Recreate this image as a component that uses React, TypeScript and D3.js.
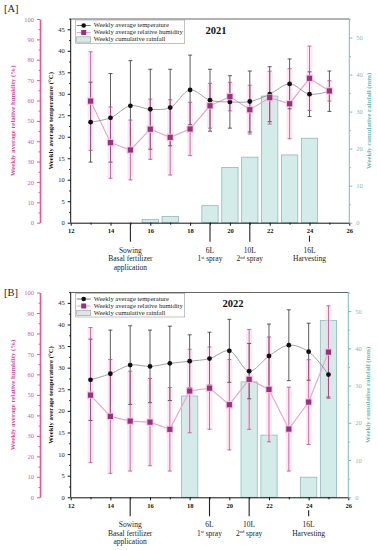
import React, { useRef, useEffect } from 'react';
import * as d3 from 'd3';

const FONT = '"Liberation Serif", "DejaVu Serif", serif';

// week numbers shared by both seasons
const weeks = [13, 14, 15, 16, 17, 18, 19, 20, 21, 22, 23, 24, 25];

// 2021
const temp2021 = [23.4, 24.4, 27.2, 26.4, 26.8, 30.9, 28.5, 28.1, 28.2, 29.9, 32.3, 29.9, 30.6];
const tempErr2021 = [9.3, 10.3, 10.5, 9.3, 8.9, 8.1, 7.2, 6.1, 7.1, 6.4, 5.8, 5.2, 4.7];
const hum2021 = [59.7, 39.3, 35.7, 45.9, 41.9, 46.0, 57.4, 61.9, 55.5, 61.4, 58.4, 70.9, 64.7];
const humErr2021 = [24.2, 17.5, 14.7, 14.8, 18.5, 13.1, 11, 7, 12, 13, 17.2, 15.8, 5];
const rain2021 = [0, 0, 0, 0.9, 1.7, 0, 4.6, 14.9, 17.7, 34.2, 18.3, 22.8, 0];

// 2022
const temp2022 = [27.2, 28.6, 30.6, 30.3, 31.0, 31.5, 32.1, 33.9, 29.2, 32.7, 35.2, 33.7, 28.4];
const tempErr2022 = [9.4, 10.1, 9.1, 8.4, 8.6, 6.1, 6.1, 7.3, 6.4, 7.4, 8.2, 6.6, 5.2];
const hum2022 = [49.9, 39.5, 37.2, 36.7, 33.2, 51.9, 53.3, 45.2, 57.6, 52.7, 33.3, 46.5, 70.9];
const humErr2022 = [33, 27.8, 24.4, 21.3, 20.4, 20.4, 20.1, 22.1, 24.4, 25.6, 20.5, 20.7, 22.6];
const rain2022 = [0, 0, 0, 0, 0, 27.2, 0, 0, 31.0, 16.7, 0, 5.4, 47.5];

// axis ticks
const xTicks = [12, 14, 16, 18, 20, 22, 24, 26];
const tempTicks = [0, 5, 10, 15, 20, 25, 30, 35, 40, 45];
const humTicks = [0, 10, 20, 30, 40, 50, 60, 70, 80, 90, 100];
const rainTicks = [0, 10, 20, 30, 40, 50];

// crop stage notes below the week axis
const noteWeeks = [15, 19, 21, 24];
const noteLines = [
    ['Sowing', 'Basal fertilizer', 'application'],
    ['6L', '1|st| spray'],
    ['10L', '2|nd| spray'],
    ['16L', 'Harvesting'],
];

const legendLabels = ['Weekly average temperature', 'Weekly average relative humidity', 'Weekly cumulative rainfall'];

const PINK = '#e8559f';
const TEAL = '#62bdb8';

function drawPanel(svg, p) {
    const left = 70.7;
    const x = d3.scaleLinear().domain([12, 26]).range([left, p.right]);
    const yT = d3.scaleLinear().domain([0, 47.4]).range([p.bottom, p.top]);
    const yH = d3.scaleLinear().domain([0, 100]).range([p.bottom, p.top]);
    const yR = d3.scaleLinear().domain([0, 55]).range([p.bottom, p.top]);

    const g = svg.append('g').attr('font-family', FONT);
    const rows = weeks.map((w, i) => ({
        w, t: p.temp[i], te: p.tempErr[i], h: p.hum[i], he: p.humErr[i], r: p.rain[i],
    }));

    // rainfall bars
    const bw = (x(13) - x(12)) * 0.82;
    g.append('g').selectAll('rect')
        .data(rows.filter(d => d.r > 0))
        .join('rect')
        .attr('x', d => x(d.w) - bw / 2)
        .attr('y', d => yR(d.r))
        .attr('width', bw)
        .attr('height', d => yR(0) - yR(d.r))
        .attr('fill', '#d3ecea')
        .attr('stroke', '#93b8bb')
        .attr('stroke-width', 0.8);

    // pink glow behind humidity error bars
    g.append('g').selectAll('rect')
        .data(rows)
        .join('rect')
        .attr('x', d => x(d.w) - 3)
        .attr('y', d => yH(d.h + d.he))
        .attr('width', 6)
        .attr('height', d => yH(d.h - d.he) - yH(d.h + d.he))
        .attr('fill', '#fbd3ea')
        .attr('opacity', 0.5);

    // humidity line
    g.append('path')
        .datum(rows)
        .attr('fill', 'none')
        .attr('stroke', '#eaa6cc')
        .attr('stroke-width', 1.2)
        .attr('d', d3.line().x(d => x(d.w)).y(d => yH(d.h)));

    // temperature line
    g.append('path')
        .datum(rows)
        .attr('fill', 'none')
        .attr('stroke', '#8a8a8a')
        .attr('stroke-width', 0.8)
        .attr('d', d3.line().curve(d3.curveCatmullRom).x(d => x(d.w)).y(d => yT(d.t)));

    // error bars
    const errBars = (lo, hi, color) => {
        const eg = g.append('g').selectAll('g').data(rows).join('g')
            .attr('stroke', color).attr('stroke-width', 0.8);
        eg.append('line')
            .attr('x1', d => x(d.w)).attr('x2', d => x(d.w))
            .attr('y1', lo).attr('y2', hi);
        eg.append('line')
            .attr('x1', d => x(d.w) - 2).attr('x2', d => x(d.w) + 2)
            .attr('y1', lo).attr('y2', lo);
        eg.append('line')
            .attr('x1', d => x(d.w) - 2).attr('x2', d => x(d.w) + 2)
            .attr('y1', hi).attr('y2', hi);
    };
    errBars(d => yT(d.t - d.te), d => yT(d.t + d.te), '#333');
    errBars(d => yH(d.h - d.he), d => yH(d.h + d.he), '#b0508f');

    // markers
    g.append('g').selectAll('circle').data(rows).join('circle')
        .attr('cx', d => x(d.w)).attr('cy', d => yT(d.t)).attr('r', 2.4)
        .attr('fill', '#111');
    g.append('g').selectAll('rect').data(rows).join('rect')
        .attr('x', d => x(d.w) - 3.8).attr('y', d => yH(d.h) - 3.8)
        .attr('width', 7.6).attr('height', 7.6)
        .attr('fill', '#f7bcdc').attr('opacity', 0.7);
    g.append('g').selectAll('rect').data(rows).join('rect')
        .attr('x', d => x(d.w) - 2.6).attr('y', d => yH(d.h) - 2.6)
        .attr('width', 5.2).attr('height', 5.2)
        .attr('fill', '#983180');

    // frame top
    g.append('line')
        .attr('x1', left).attr('x2', p.right)
        .attr('y1', p.top).attr('y2', p.top)
        .attr('stroke', '#666').attr('stroke-width', 1.2);

    const styleAxis = (ax, color, textColor, size, weight) => {
        ax.attr('font-family', FONT).attr('font-size', size);
        ax.select('.domain').attr('stroke', color).attr('stroke-width', 1);
        ax.selectAll('.tick line').attr('stroke', color);
        ax.selectAll('.tick text').attr('fill', textColor).attr('font-weight', weight);
    };

    // x axis with minor ticks
    const xa = g.append('g').attr('transform', `translate(0,${p.bottom})`)
        .call(d3.axisBottom(x).tickValues(xTicks).tickSize(3).tickPadding(3).tickSizeOuter(0));
    styleAxis(xa, '#111', '#111', 6.5, 'bold');
    const xm = g.append('g').attr('transform', `translate(0,${p.bottom})`)
        .call(d3.axisBottom(x).tickValues(weeks.filter(w => w % 2 === 1)).tickSize(2).tickFormat(() => '').tickSizeOuter(0));
    xm.select('.domain').remove();
    xm.selectAll('.tick line').attr('stroke', '#111');

    // temperature axis
    const ta = g.append('g').attr('transform', `translate(${left},0)`)
        .call(d3.axisLeft(yT).tickValues(tempTicks).tickSize(3).tickPadding(3).tickSizeOuter(0));
    styleAxis(ta, '#111', '#222', 6.5, 'normal');
    ta.select('.domain').attr('d', `M0,${p.bottom}V${p.top}`);
    const tm = g.append('g').attr('transform', `translate(${left},0)`)
        .call(d3.axisLeft(yT).tickValues(tempTicks.map(v => v + 2.5)).tickSize(1.5).tickFormat(() => '').tickSizeOuter(0));
    tm.select('.domain').remove();
    tm.selectAll('.tick line').attr('stroke', '#111');

    // humidity axis
    const ha = g.append('g').attr('transform', 'translate(40,0)')
        .call(d3.axisLeft(yH).tickValues(humTicks).tickSize(3).tickPadding(3).tickSizeOuter(0));
    styleAxis(ha, PINK, '#c8609e', 6.5, 'normal');
    ha.select('.domain').attr('stroke-width', 1.6);
    const hm = g.append('g').attr('transform', 'translate(40,0)')
        .call(d3.axisLeft(yH).tickValues(humTicks.slice(0, -1).map(v => v + 5)).tickSize(1.5).tickFormat(() => '').tickSizeOuter(0));
    hm.select('.domain').remove();
    hm.selectAll('.tick line').attr('stroke', PINK);

    // rainfall axis
    const ra = g.append('g').attr('transform', `translate(${p.right},0)`)
        .call(d3.axisRight(yR).tickValues(rainTicks).tickSize(3).tickPadding(4).tickSizeOuter(0));
    styleAxis(ra, '#7fb9b8', '#8fb6b5', 6.5, 'normal');
    ra.select('.domain').attr('d', `M0,${p.bottom}V${p.top}`);
    const rm = g.append('g').attr('transform', `translate(${p.right},0)`)
        .call(d3.axisRight(yR).tickValues(rainTicks.map(v => v + 5)).tickSize(1.5).tickFormat(() => '').tickSizeOuter(0));
    rm.select('.domain').remove();
    rm.selectAll('.tick line').attr('stroke', '#7fb9b8');

    // axis titles
    const midY = (p.top + p.bottom) / 2;
    g.append('text')
        .attr('transform', `translate(15,${midY}) rotate(-90)`)
        .attr('text-anchor', 'middle').attr('font-size', 6.8).attr('font-weight', 'bold')
        .attr('fill', '#e0459b')
        .text('Weekly average relative humidity (%)');
    g.append('text')
        .attr('transform', `translate(53,${midY}) rotate(-90)`)
        .attr('text-anchor', 'middle').attr('font-size', 6.8).attr('font-weight', 'bold')
        .attr('fill', '#111')
        .text('Weekly average temperature (\u00b0C)');
    g.append('text')
        .attr('transform', `translate(${p.right + 22},${midY}) rotate(-90)`)
        .attr('text-anchor', 'middle').attr('font-size', 6.8).attr('font-weight', 'bold')
        .attr('fill', TEAL)
        .text('Weekly cumulative rainfall (mm)');

    // legend
    const lg = g.append('g').attr('transform', `translate(${left + 5},${p.top + 1})`);
    lg.append('rect').attr('width', 109).attr('height', 23.5)
        .attr('fill', 'white').attr('stroke', '#999').attr('stroke-width', 0.6);
    const rowY = [5.5, 12.5, 19.5];
    lg.append('line').attr('x1', 1).attr('x2', 15).attr('y1', rowY[0]).attr('y2', rowY[0])
        .attr('stroke', '#555').attr('stroke-width', 0.8);
    lg.append('circle').attr('cx', 8).attr('cy', rowY[0]).attr('r', 2.3).attr('fill', '#111');
    lg.append('line').attr('x1', 1).attr('x2', 15).attr('y1', rowY[1]).attr('y2', rowY[1])
        .attr('stroke', '#eaa6cc').attr('stroke-width', 1);
    lg.append('rect').attr('x', 5.5).attr('y', rowY[1] - 2.5).attr('width', 5).attr('height', 5).attr('fill', '#983180');
    lg.append('rect').attr('x', 1).attr('y', rowY[2] - 2.7).attr('width', 14).attr('height', 5.4)
        .attr('fill', p.swatch).attr('stroke', '#999').attr('stroke-width', 0.6);
    lg.selectAll('text.lbl').data(legendLabels).join('text')
        .attr('class', 'lbl')
        .attr('x', 18).attr('y', (d, i) => rowY[i])
        .attr('dominant-baseline', 'middle')
        .attr('font-size', 6.6).attr('fill', '#222')
        .text(d => d);

    // year label
    g.append('text')
        .attr('x', p.yearX).attr('y', p.top + 14.5)
        .attr('text-anchor', 'middle').attr('font-size', 10.5).attr('font-weight', 'bold')
        .attr('fill', '#111')
        .text(p.year);

    // panel tag
    g.append('text')
        .attr('x', 4).attr('y', p.tagY)
        .attr('font-size', 10.5).attr('fill', '#222')
        .text(p.tag);

    // crop stage notes
    noteWeeks.forEach((w, i) => {
        const startY = w === 24 ? p.bottom + 13 : p.bottom;
        g.append('line')
            .attr('x1', x(w)).attr('x2', x(w))
            .attr('y1', startY).attr('y2', p.bottom + 19)
            .attr('stroke', '#222').attr('stroke-width', 1.1);
        noteLines[i].forEach((line, j) => {
            const t = g.append('text')
                .attr('x', x(w)).attr('y', p.bottom + 30 + j * 8.4)
                .attr('text-anchor', 'middle').attr('font-size', 7.5).attr('fill', '#222');
            const parts = line.split('|');
            if (parts.length === 3) {
                t.append('tspan').text(parts[0]);
                t.append('tspan').attr('font-size', 4.5).attr('dy', -2.5).text(parts[1]);
                t.append('tspan').attr('dy', 2.5).text(parts[2]);
            } else {
                t.text(line);
            }
        });
    });
}

const panels = [
    {
        tag: '[A]', tagY: 12, year: '2021', yearX: 216, top: 19, bottom: 222.7, right: 349.3,
        temp: temp2021, tempErr: tempErr2021, hum: hum2021, humErr: humErr2021, rain: rain2021,
        swatch: '#d3ecea',
    },
    {
        tag: '[B]', tagY: 296, year: '2022', yearX: 233, top: 292.5, bottom: 497.3, right: 348.3,
        temp: temp2022, tempErr: tempErr2022, hum: hum2022, humErr: humErr2022, rain: rain2022,
        swatch: '#d9e6ea',
    },
];

export default function App() {
    const ref = useRef(null);

    useEffect(() => {
        const svg = d3.select(ref.current);
        svg.selectAll('*').remove();
        svg.append('rect').attr('width', 377).attr('height', 550).attr('fill', 'white');
        panels.forEach(p => drawPanel(svg, p));
    }, []);

    return (
        <svg ref={ref} width={377} height={550}
            style={{ position: 'absolute', left: 0, top: 0, display: 'block' }} />
    );
}
